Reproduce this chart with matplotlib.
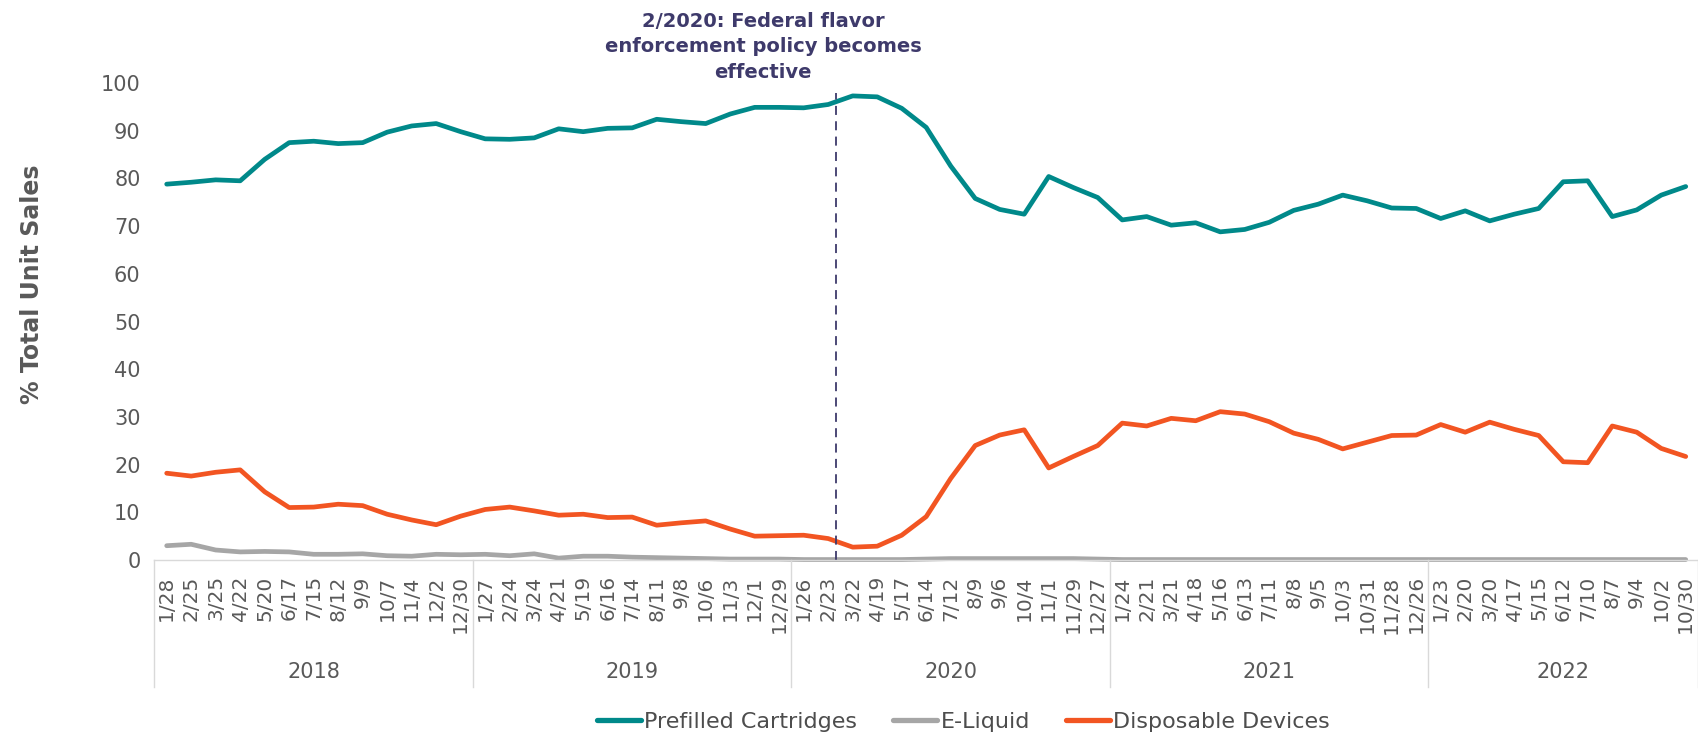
import matplotlib
matplotlib.use("Agg")
import matplotlib.pyplot as plt
import matplotlib.transforms as mtransforms

# 4-week periods, grouped by year
years = ["2018", "2019", "2020", "2021", "2022"]
periods = [
    ["1/28", "2/25", "3/25", "4/22", "5/20", "6/17", "7/15", "8/12", "9/9", "10/7", "11/4", "12/2", "12/30"],
    ["1/27", "2/24", "3/24", "4/21", "5/19", "6/16", "7/14", "8/11", "9/8", "10/6", "11/3", "12/1", "12/29"],
    ["1/26", "2/23", "3/22", "4/19", "5/17", "6/14", "7/12", "8/9", "9/6", "10/4", "11/1", "11/29", "12/27"],
    ["1/24", "2/21", "3/21", "4/18", "5/16", "6/13", "7/11", "8/8", "9/5", "10/3", "10/31", "11/28", "12/26"],
    ["1/23", "2/20", "3/20", "4/17", "5/15", "6/12", "7/10", "8/7", "9/4", "10/2", "10/30"],
]

prefilled = [78.8, 79.2, 79.7, 79.5, 84.0, 87.5, 87.8, 87.3, 87.5, 89.7, 91.0, 91.5, 89.8,
             88.3, 88.2, 88.5, 90.4, 89.8, 90.5, 90.6, 92.4, 91.9, 91.5, 93.5, 94.9, 94.9,
             94.8, 95.5, 97.3, 97.1, 94.7, 90.7, 82.6, 75.8, 73.5, 72.5, 80.4, 78.1, 76.0,
             71.3, 72.0, 70.2, 70.7, 68.8, 69.3, 70.8, 73.3, 74.6, 76.5, 75.3, 73.8, 73.7,
             71.6, 73.2, 71.1, 72.5, 73.7, 79.3, 79.5, 72.0, 73.4, 76.5, 78.3]
eliquid = [3.0, 3.3, 2.1, 1.7, 1.8, 1.7, 1.2, 1.2, 1.3, 0.9, 0.8, 1.2, 1.1,
           1.2, 0.9, 1.3, 0.4, 0.8, 0.8, 0.6, 0.5, 0.4, 0.3, 0.2, 0.2, 0.2,
           0.1, 0.1, 0.1, 0.1, 0.1, 0.2, 0.3, 0.3, 0.3, 0.3, 0.3, 0.3, 0.2,
           0.1, 0.1, 0.1, 0.1, 0.1, 0.1, 0.1, 0.1, 0.1, 0.1, 0.1, 0.1, 0.1,
           0.1, 0.1, 0.1, 0.1, 0.1, 0.1, 0.1, 0.1, 0.1, 0.1, 0.1]
disposable = [18.2, 17.6, 18.4, 18.9, 14.3, 11.0, 11.1, 11.7, 11.4, 9.6, 8.4, 7.4, 9.2,
              10.6, 11.1, 10.3, 9.4, 9.6, 8.9, 9.0, 7.3, 7.8, 8.2, 6.5, 5.0, 5.1,
              5.2, 4.5, 2.7, 2.9, 5.2, 9.1, 17.1, 24.0, 26.2, 27.3, 19.3, 21.7, 24.0,
              28.7, 28.1, 29.7, 29.2, 31.1, 30.6, 29.0, 26.6, 25.3, 23.3, 24.7, 26.1, 26.2,
              28.4, 26.8, 28.9, 27.4, 26.1, 20.6, 20.4, 28.1, 26.8, 23.4, 21.7]

event_x = 27.3  # February 2020, between the 2/23 and 3/22 periods
event_text = "2/2020: Federal flavor\nenforcement policy becomes\neffective"

TEAL = "#00898A"
GREY = "#A6A6A6"
ORANGE = "#F25522"
NAVY = "#3E3A6B"
TXT = "#595959"
RULE = "#D9D9D9"

labels = [p for grp in periods for p in grp]
x = list(range(len(labels)))

plt.rcParams["font.family"] = ["DejaVu Sans"]

fig = plt.figure(figsize=(16.99, 7.36), dpi=100)
ax = fig.add_axes([0.0909, 0.2391, 0.9085, 0.6481])

ax.plot(x, prefilled, color=TEAL, lw=3.4, label="Prefilled Cartridges", solid_capstyle="round")
ax.plot(x, eliquid, color=GREY, lw=3.4, label="E-Liquid", solid_capstyle="round", clip_on=False)
ax.plot(x, disposable, color=ORANGE, lw=3.4, label="Disposable Devices", solid_capstyle="round")

ax.plot([event_x, event_x], [0, 98], color=NAVY, lw=1.3, ls=(0, (5, 3.5)))

ax.set_xlim(-0.5, len(labels) - 0.5)
ax.set_ylim(0, 100)
ax.set_yticks(range(0, 101, 10))
ax.set_xticks(x)
ax.set_xticklabels(labels, rotation=90, va="top", ha="center")
ax.tick_params(axis="x", length=0, pad=11, labelsize=14.5, labelcolor=TXT)
ax.tick_params(axis="y", length=0, pad=10, labelsize=15, labelcolor=TXT)

for side in ["top", "right", "left"]:
    ax.spines[side].set_visible(False)
ax.spines["bottom"].set_color(RULE)
ax.spines["bottom"].set_linewidth(1.0)

# year separators and year labels under the period labels
trans = mtransforms.blended_transform_factory(ax.transData, ax.transAxes)
start = 0
bounds = [-0.5]
for yr, grp in zip(years, periods):
    end = start + len(grp)
    bounds.append(end - 0.5)
    ax.text((start + end - 1) / 2, -0.235, yr, transform=trans, ha="center", va="center",
            fontsize=15, color=TXT)
    start = end
for b in bounds:
    ax.plot([b, b], [0, -0.266], transform=trans, color=RULE, lw=1.0, clip_on=False)

fig.text(0.019, 1 - 284 / 736, "% Total Unit Sales", rotation=90, ha="center", va="center",
         fontsize=17, fontweight="bold", color=TXT)

fig.text(763 / 1699, 1 - 47 / 736, event_text, ha="center", va="center", fontsize=14,
         fontweight="bold", color=NAVY, linespacing=1.45)

fig.legend(loc="center", bbox_to_anchor=(0.567, 1 - 722 / 736), ncol=3, frameon=False,
           fontsize=16, handlelength=2.0, handletextpad=0.15, columnspacing=1.6,
           labelcolor="#4D4D4D")
for line in fig.legends[0].get_lines():
    line.set_linewidth(3.8)

fig.savefig("out.png", dpi=100)
